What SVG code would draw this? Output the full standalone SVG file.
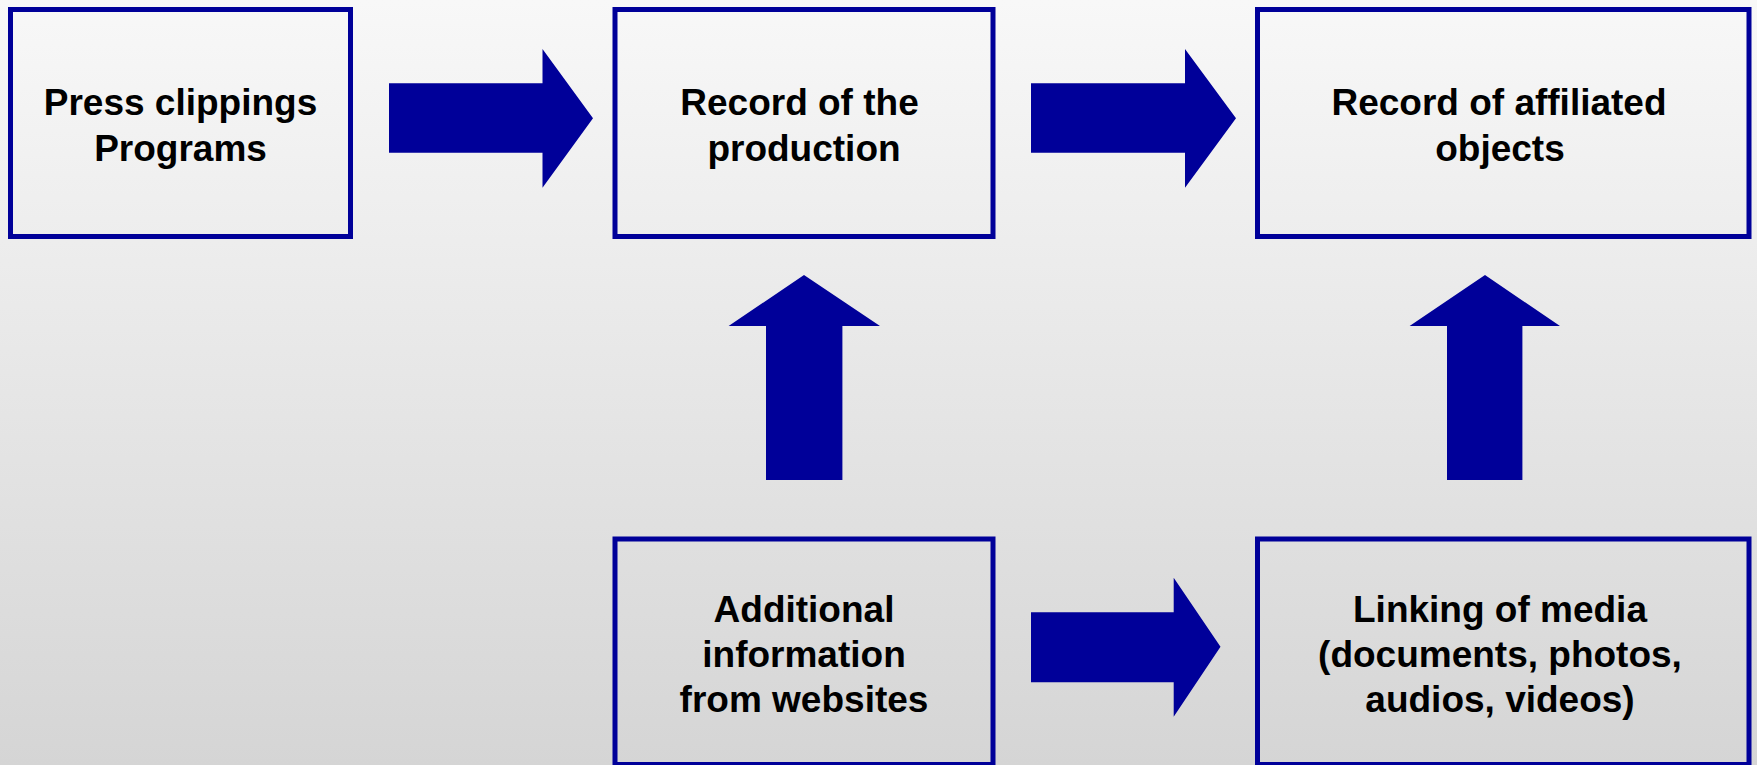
<svg xmlns="http://www.w3.org/2000/svg" width="1757" height="765" viewBox="0 0 1757 765">
<defs>
<linearGradient id="bg" x1="0" y1="0" x2="0" y2="1">
<stop offset="0" stop-color="#f8f8f8"/>
<stop offset="1" stop-color="#d5d5d5"/>
</linearGradient>
<style>
.box{fill:none;stroke:#000099;stroke-width:5}
.arrow{fill:#000099}
.lbl{font-family:"Liberation Sans",Arial,sans-serif;font-weight:bold;font-size:37px;fill:#000;text-anchor:middle}
</style>
</defs>
<rect x="0" y="0" width="1757" height="765" fill="url(#bg)"/>
<g id="connectors">
<polygon class="arrow" points="389,83.3 542.5,83.3 542.5,49 593,118.3 542.5,187.7 542.5,152.7 389,152.7"/>
<polygon class="arrow" points="1031,83.3 1185,83.3 1185,49 1236,118.3 1185,187.7 1185,152.7 1031,152.7"/>
<polygon class="arrow" points="766,480 766,326 728.6,326 804,275 880,326 842.4,326 842.4,480"/>
<polygon class="arrow" points="1447,480 1447,326 1409.6,326 1485,275 1560,326 1522.4,326 1522.4,480"/>
<polygon class="arrow" points="1031,612.3 1173.7,612.3 1173.7,577.7 1220.5,646.7 1173.7,716.7 1173.7,682.3 1031,682.3"/>
</g>
<g id="node-press">
<rect class="box" x="10.5" y="9.5" width="340" height="227"/>
<text class="lbl" x="180.5" y="115">Press clippings</text>
<text class="lbl" x="180.5" y="161">Programs</text>
</g>
<g id="node-production">
<rect class="box" x="615" y="9.5" width="378" height="227"/>
<text class="lbl" x="799.5" y="115">Record of the</text>
<text class="lbl" x="804" y="161">production</text>
</g>
<g id="node-affiliated">
<rect class="box" x="1257.5" y="9.5" width="491.5" height="227"/>
<text class="lbl" x="1499" y="115">Record of affiliated</text>
<text class="lbl" x="1500" y="161">objects</text>
</g>
<g id="node-additional">
<rect class="box" x="615" y="539" width="378" height="225.5"/>
<text class="lbl" x="804" y="621.7">Additional</text>
<text class="lbl" x="804" y="667">information</text>
<text class="lbl" x="804" y="711.7">from websites</text>
</g>
<g id="node-media">
<rect class="box" x="1257.5" y="539" width="491.5" height="225.5"/>
<text class="lbl" x="1500" y="621.7">Linking of media</text>
<text class="lbl" x="1500" y="667">(documents, photos,</text>
<text class="lbl" x="1500" y="711.7">audios, videos)</text>
</g>
</svg>
